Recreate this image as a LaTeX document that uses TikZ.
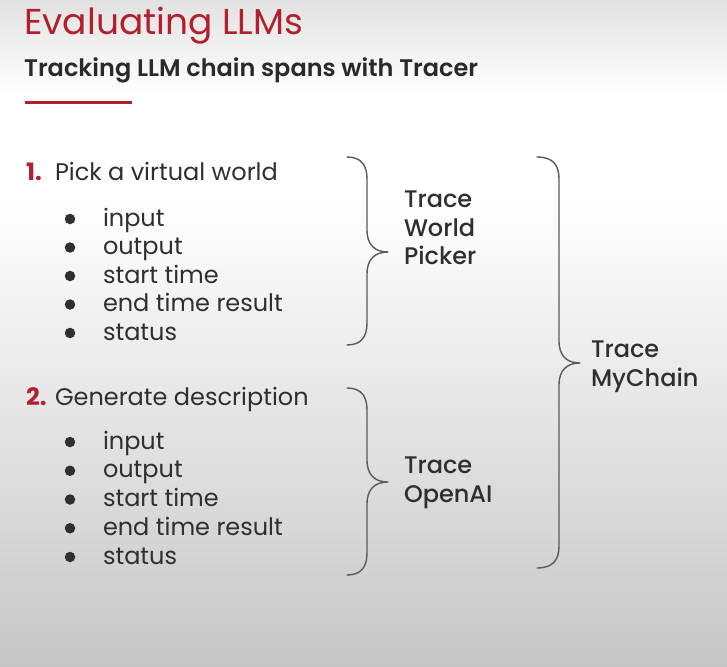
\documentclass[tikz,border=0pt]{standalone}
\usepackage{fontspec}
\setmainfont{Poppins}
\newfontfamily\popmed{Poppins Medium}
\newfontfamily\popsemi{Poppins SemiBold}
\newfontfamily\popbold{Poppins Bold}
\definecolor{crim}{HTML}{B3202D}
\definecolor{ink}{HTML}{2F2F2F}
\definecolor{brc}{HTML}{5A5A5A}
\definecolor{bgtop}{HTML}{E2E2E2}
\definecolor{bgbot}{HTML}{C6C6C6}
\tikzset{
  txt/.style={anchor=base west, inner sep=0pt, outer sep=0pt, text=ink, font=\fontsize{24}{28}\selectfont},
  lbl/.style={txt, font=\popmed\fontsize{24}{28}\selectfont},
  num/.style={anchor=base west, inner sep=0pt, text=crim, font=\popbold\fontsize{24}{28}\selectfont},
  dot/.style={circle, fill=ink, inner sep=0pt, minimum size=10.5pt},
  bracestyle/.style={draw=brc, line width=1.4pt, line cap=round, line join=round},
}
\newcommand\drawbrace[6]{% xend xvert xtip ytop ymid ybot
  \draw[bracestyle] (#1,#4) .. controls ({#2-6},#4) and (#2,{#4+8}) .. (#2,{#4+22})
    -- (#2,{#5-22}) .. controls (#2,{#5-7}) and ({#2+8},#5) .. (#3,#5)
    .. controls ({#2+8},#5) and (#2,{#5+7}) .. (#2,{#5+22})
    -- (#2,{#6-22}) .. controls (#2,{#6-8}) and ({#2-6},#6) .. (#1,#6);}
\begin{document}
\begin{tikzpicture}[x=1pt,y=-1pt]
\useasboundingbox (0,0) rectangle (727,666);
\shade[top color=bgtop, bottom color=white] (0,0) rectangle (727,95);
\fill[white] (0,94.5) rectangle (727,200.5);
\shade[top color=white, bottom color=bgbot] (0,200) rectangle (727,666);

\node[anchor=base west, inner sep=0pt, text=crim, font=\fontsize{36}{40}\selectfont] (title) at (24,35) {Evaluating LLMs};
\node[anchor=base west, inner sep=0pt, text=ink!90!black, font=\popsemi\fontsize{24}{26}\selectfont] (sub) at (24,77) {Tracking LLM chain spans with Tracer};
\draw[crim, line width=3pt] (25,103) -- (132,103);

\node[num] (n1) at (26,180) {1.};
\node[txt] (s1) at (55,180) {Pick a virtual world};
\foreach \t [count=\i] in {input,output,start time,end time result,status}{
  \node[txt] (a\i) at (103,{226+28.5*(\i-1)}) {\t};
  \node[dot] (ad\i) at (70,{219+28.5*(\i-1)}) {};
}

\node[num] (n2) at (26,405) {2.};
\node[txt] (s2) at (55,405) {Generate description};
\foreach \t [count=\i] in {input,output,start time,end time result,status}{
  \node[txt] (b\i) at (103,{449+28.75*(\i-1)}) {\t};
  \node[dot] (bd\i) at (70,{442+28.75*(\i-1)}) {};
}

\drawbrace{347}{367}{388}{157}{252}{345}
\drawbrace{347}{367}{388}{388}{482}{575}
\drawbrace{537}{559}{580}{157}{363}{568}

\node[lbl] (t1a) at (404,207) {Trace};
\node[lbl] (t1b) at (404,236) {World};
\node[lbl] (t1c) at (404,264) {Picker};
\node[lbl] (t2a) at (404,473) {Trace};
\node[lbl] (t2b) at (404,502) {OpenAI};
\node[lbl] (t3a) at (591,357) {Trace};
\node[lbl] (t3b) at (591,386) {MyChain};
\end{tikzpicture}
\end{document}
